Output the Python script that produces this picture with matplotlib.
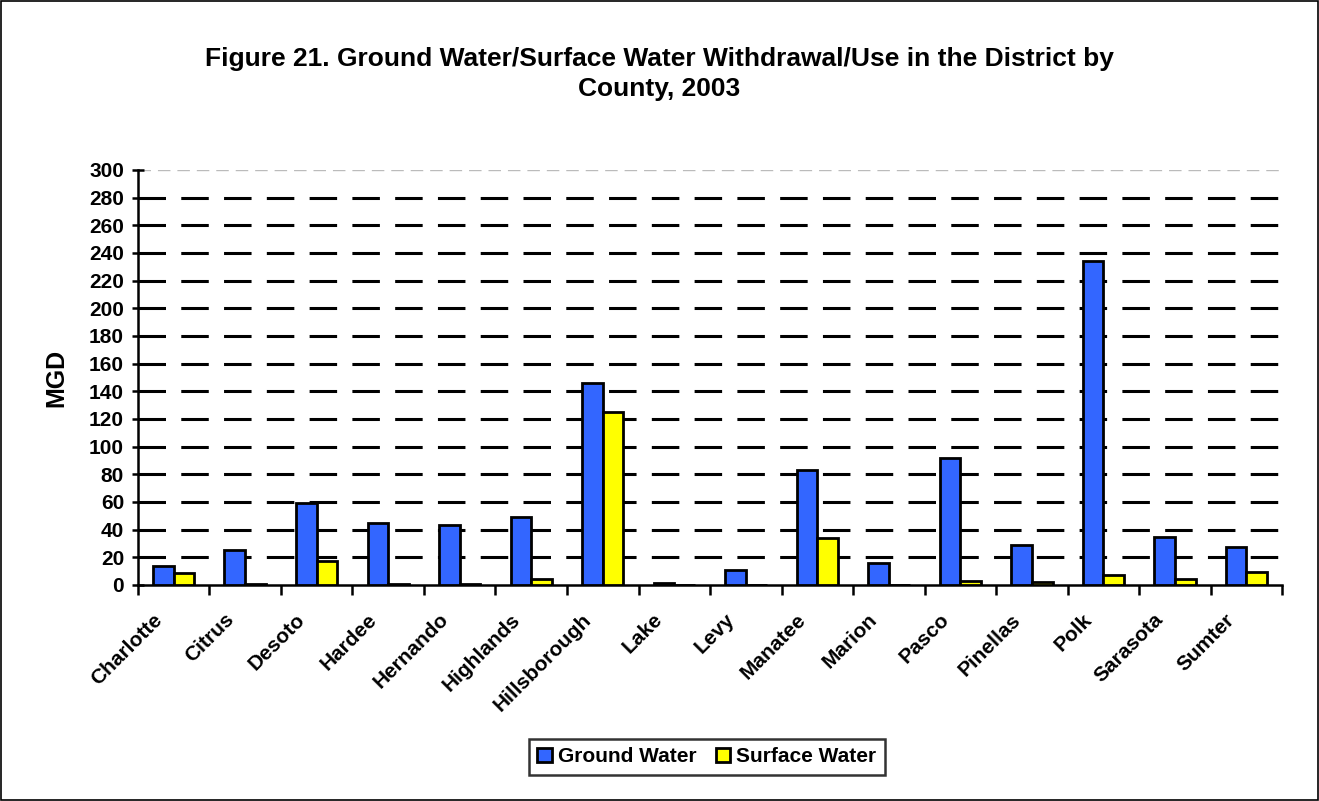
import matplotlib
matplotlib.use("Agg")
import matplotlib.pyplot as plt
import matplotlib.transforms as mtransforms
import numpy as np
from matplotlib.patches import Rectangle

plt.rcParams['font.family'] = ['Liberation Sans', 'DejaVu Sans']
plt.rcParams['font.weight'] = 'bold'

# data (MGD)
counties = ["Charlotte", "Citrus", "Desoto", "Hardee", "Hernando", "Highlands",
            "Hillsborough", "Lake", "Levy", "Manatee", "Marion", "Pasco",
            "Pinellas", "Polk", "Sarasota", "Sumter"]
ground_water = [14, 25, 59, 45, 43.5, 49, 146, 1.5, 10.5, 83, 16, 92, 29, 234, 34.5, 27.5]
surface_water = [8.5, 0.5, 17, 0.4, 0.6, 4.3, 125, 0.3, 0.3, 34, 0.3, 2.8, 2.5, 7.3, 4.1, 9.4]

fig = plt.figure(figsize=(13.19, 8.01), dpi=100)
ax = fig.add_axes([0.1046, 0.2697, 0.8674, 0.5181])

x = np.arange(len(counties))
w = 0.29
ax.bar(x - w / 2, ground_water, w, color="#3366FF", edgecolor="black", linewidth=2,
       label="Ground Water", zorder=3)
ax.bar(x + w / 2, surface_water, w, color="#FFFF00", edgecolor="black", linewidth=2,
       label="Surface Water", zorder=3)

ax.set_xlim(-0.5, len(counties) - 0.5)
ax.set_ylim(0, 300)
ax.set_yticks(np.arange(0, 301, 20))

# dashed gridlines
for yv in range(20, 300, 20):
    ax.axhline(yv, color="black", linewidth=2.2, dashes=(9, 5), zorder=1)
ax.axhline(300, color="#bbbbbb", linewidth=1.0, dashes=(9, 5), zorder=1)

ax.spines['top'].set_visible(False)
ax.spines['right'].set_visible(False)
ax.spines['left'].set_linewidth(1.8)
ax.spines['bottom'].set_linewidth(1.8)

# ticks at category boundaries, labels drawn as rotated text
ax.set_xticks(np.arange(-0.5, len(counties), 1))
ax.set_xticklabels([])
ax.tick_params(axis="x", length=7, width=1.8, direction="out")
base = mtransforms.blended_transform_factory(ax.transData, ax.transAxes)
shift = mtransforms.ScaledTranslation(-0.21, -0.25, fig.dpi_scale_trans)
for i, name in enumerate(counties):
    ax.text(i, 0, name, transform=base + shift, rotation=45, ha="right", va="top",
            rotation_mode="anchor", fontsize=15, fontweight="bold", clip_on=False)

ax.tick_params(axis="y", length=8, width=1.8, direction="inout", labelsize=15, pad=6)
for lab in ax.get_yticklabels():
    lab.set_fontweight("bold")

ax.set_ylabel("MGD", fontsize=18, fontweight="bold", labelpad=15)

fig.text(0.5, 0.908, "Figure 21. Ground Water/Surface Water Withdrawal/Use in the District by\nCounty, 2003",
         ha="center", va="center", fontsize=19, fontweight="bold", linespacing=1.32)

leg = fig.legend(loc="center", bbox_to_anchor=(0.536, 0.055), ncol=2, frameon=True,
                 fancybox=False, edgecolor="black", fontsize=15, handlelength=0.7,
                 handleheight=0.7, handletextpad=0.3, columnspacing=0.9, borderpad=0.4)
leg.get_frame().set_linewidth(1.8)

# outer border
fig.patches.append(Rectangle((0.001, 0.001), 0.998, 0.998, transform=fig.transFigure,
                             fill=False, edgecolor="black", linewidth=1.2))

fig.savefig("out.png", dpi=100)
